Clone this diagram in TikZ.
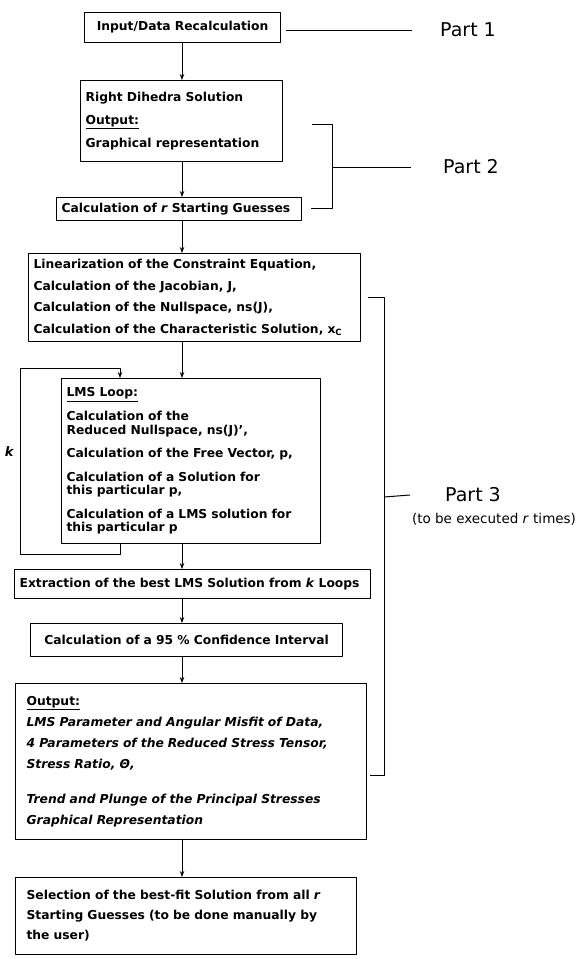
\documentclass[tikz,border=0pt]{standalone}
\usepackage{fontspec}
\setmainfont{DejaVu Sans}
\usetikzlibrary{arrows.meta}

\begin{document}
\begin{tikzpicture}[x=1pt, y=-1pt, line join=round,
    stepbox/.style={draw, line width=1.2pt, anchor=north west, align=left,
      inner xsep=5pt, inner ysep=0pt,
      font=\bfseries\fontsize{12.3}{14}\selectfont},
    flow/.style={-{Stealth[length=6pt,width=4.5pt]}, line width=0.9pt},
    brace/.style={line width=1pt},
    partlabel/.style={anchor=west, inner sep=0pt, font=\fontsize{19}{22}\selectfont}]
  \useasboundingbox (0,0) rectangle (582,959);
  \coordinate (ax) at (182,0);
  \coordinate (lx) at (120,0);

  % main column of steps
  \node[stepbox, align=center, text width=186pt, minimum height=30pt] (input) at (84,12)
    {Input/Data Recalculation};
  \node[stepbox, text width=192pt, minimum height=81pt,
    font=\bfseries\fontsize{12.3}{23}\selectfont] (dihedra) at (80,80)
    {Right Dihedra Solution\\ \underline{Output:}\\ Graphical representation};
  \node[stepbox, text width=235pt, minimum height=23pt] (guesses) at (56,197)
    {Calculation of \textit{r} Starting Guesses};
  \node[stepbox, text width=322pt, minimum height=88pt,
    font=\bfseries\fontsize{12.3}{21.5}\selectfont] (linear) at (28,253)
    {Linearization of the Constraint Equation,\\
     Calculation of the Jacobian, J,\\
     Calculation of the Nullspace, ns(J),\\
     Calculation of the Characteristic Solution, x\textsubscript{C}};
  \node[stepbox, text width=249pt, minimum height=165pt,
    font=\bfseries\fontsize{12.3}{13.5}\selectfont] (lms) at (61,378)
    {\underline{LMS Loop:}\\[9pt]
     Calculation of the\\
     Reduced Nullspace, ns(J)',\\[10pt]
     Calculation of the Free Vector, p,\\[10pt]
     Calculation of a Solution for\\
     this particular p,\\[10pt]
     Calculation of a LMS solution for\\
     this particular p};
  \node[stepbox, text width=346pt, minimum height=29pt] (extract) at (14,569)
    {Extraction of the best LMS Solution from \textit{k} Loops};
  \node[stepbox, align=center, text width=302pt, minimum height=33pt] (confid) at (30,623)
    {Calculation of a 95 \% Confidence Interval};
  \node[stepbox, inner xsep=11pt, text width=329pt, minimum height=156pt,
    font=\bfseries\fontsize{12.3}{21}\selectfont] (output) at (15,683)
    {\underline{Output:}\\
     \textit{LMS Parameter and Angular Misfit of Data,}\\
     \textit{4 Parameters of the Reduced Stress Tensor,}\\
     \textit{Stress Ratio, Θ,}\\[14pt]
     \textit{Trend and Plunge of the Principal Stresses}\\
     \textit{Graphical Representation}};
  \node[stepbox, inner xsep=11pt, text width=319pt, minimum height=77pt,
    font=\bfseries\fontsize{12.3}{20}\selectfont] (select) at (15,877)
    {Selection of the best-fit Solution from all \textit{r}\\
     Starting Guesses (to be done manually by\\
     the user)};

  % arrows
  \draw[flow] (ax |- input.south) -- (ax |- dihedra.north);
  \draw[flow] (ax |- dihedra.south) -- (ax |- guesses.north);
  \draw[flow] (ax |- guesses.south) -- (ax |- linear.north);
  \draw[flow] (ax |- linear.south) -- (ax |- lms.north);
  \draw[flow] (ax |- lms.south) -- (ax |- extract.north);
  \draw[flow] (ax |- extract.south) -- (ax |- confid.north);
  \draw[flow] (ax |- confid.south) -- (ax |- output.north);
  \draw[flow] (ax |- output.south) -- (ax |- select.north);

  % k loop
  \coordinate (kbot) at (20,554);
  \coordinate (ktop) at (20,368);
  \draw[flow] (lx |- lms.south) |- (kbot) -- (ktop) -| (lx |- lms.north);
  \node[font=\bfseries\itshape\fontsize{13}{15}\selectfont, anchor=east] (kcount) at (17,452) {k};

  % parts
  \node[partlabel] (part1) at (440,30) {Part 1};
  \draw[brace] ([xshift=5pt]input.east |- part1.west) -- ([xshift=-28pt]part1.west);

  \coordinate (b2top) at (312,124);
  \coordinate (b2bot) at (311,208);
  \coordinate (b2mid) at (332,167);
  \draw[brace] (b2top) -| (b2mid |- b2bot) -- (b2bot);
  \node[partlabel] (part2) at (443,167) {Part 2};
  \draw[brace] (b2mid) -- ([xshift=-32pt]part2.west);

  \coordinate (b3top) at (368,297);
  \coordinate (b3bot) at (370,775);
  \coordinate (b3mid) at (384,497);
  \draw[brace] (b3top) -| (b3mid |- b3bot) -- (b3bot);
  \node[partlabel] (part3) at (445,495) {Part 3};
  \draw[brace] (b3mid) -- ([xshift=-35pt]part3.west);
  \node[font=\fontsize{13.5}{16}\selectfont] (rtimes) at (494,519) {(to be executed \textit{r} times)};
\end{tikzpicture}
\end{document}
